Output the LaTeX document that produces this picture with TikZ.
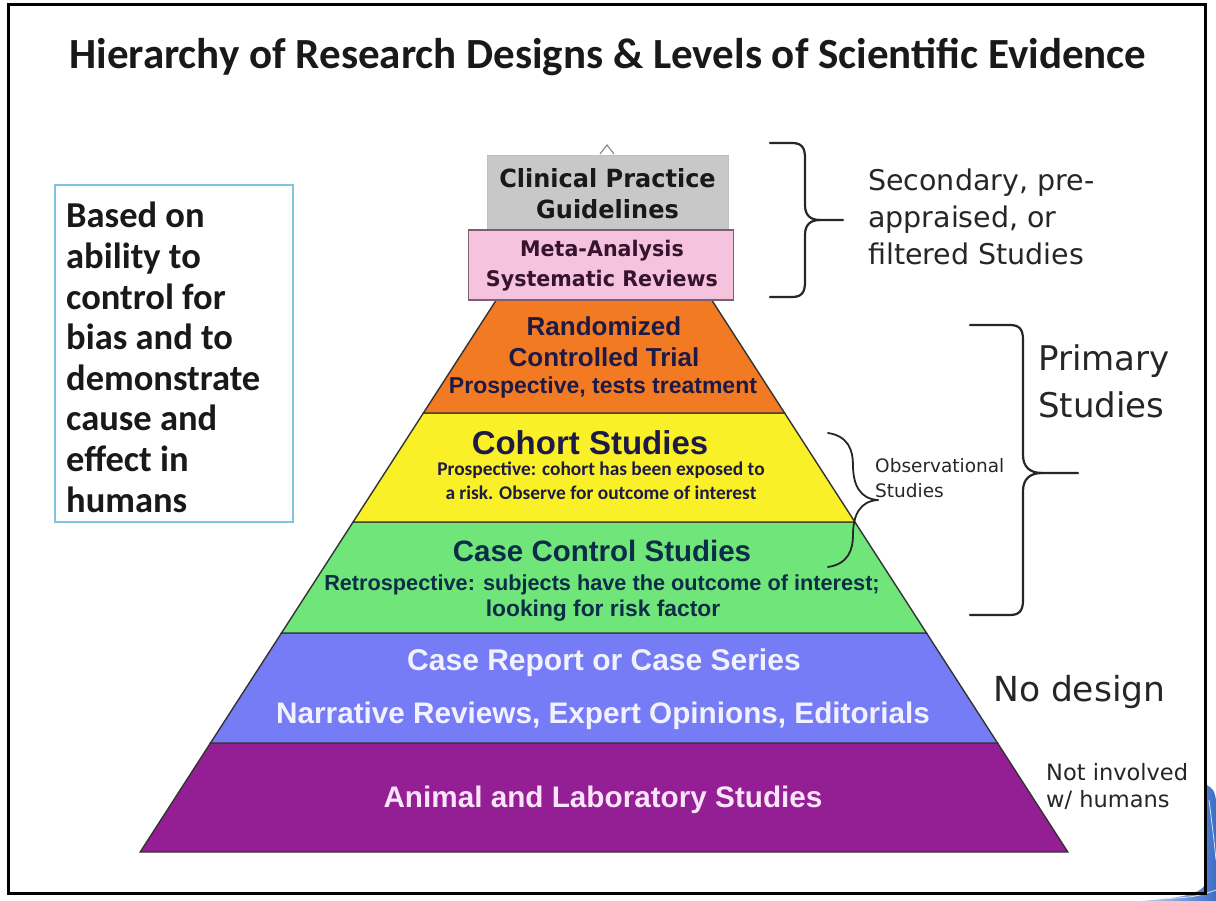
\documentclass[tikz,border=0pt]{standalone}
\usepackage{fontspec}
\setmainfont{Liberation Sans}
\newfontfamily\arial{Liberation Sans}
\newfontfamily\calfont{Carlito}
\newfontfamily\dvs{DejaVu Sans}
\newfontfamily\dvsc[FakeStretch=0.96]{DejaVu Sans}
\definecolor{navytxt}{RGB}{30,26,70}
\definecolor{tealtxt}{RGB}{12,45,72}
\definecolor{grayfill}{RGB}{200,200,200}
\definecolor{pinkfill}{RGB}{245,195,222}
\definecolor{pinkline}{RGB}{125,95,115}
\definecolor{pinktxt}{RGB}{55,20,45}
\definecolor{orangefill}{RGB}{242,122,34}
\definecolor{yellowfill}{RGB}{250,240,40}
\definecolor{greenfill}{RGB}{112,230,122}
\definecolor{bluefill}{RGB}{118,124,245}
\definecolor{purplefill}{RGB}{148,30,148}
\definecolor{lightbox}{RGB}{130,196,222}
\definecolor{bluetxt}{RGB}{242,242,255}
\definecolor{purpletxt}{RGB}{250,228,250}
\definecolor{swoosh}{RGB}{60,110,200}
\tikzset{
  layer/.style={draw=black!80, line width=1.4pt},
  head/.style={font=\arial\bfseries\fontsize{29.5}{33}\selectfont, text=navytxt, inner sep=0pt},
  sub/.style={font=\arial\bfseries\fontsize{23}{26}\selectfont, text=navytxt, inner sep=0pt},
  side/.style={font=\dvs, text=black!85, inner sep=0pt, anchor=west, align=left},
  brace/.style={draw=black!85, line width=2.2pt, line cap=round}
}
\begin{document}
\begin{tikzpicture}[x=1pt,y=-1pt]
\useasboundingbox (0,0) rectangle (1216,901);
\fill[white] (0,0) rectangle (1216,901);
% decorative swoosh bottom right
\shade[left color=swoosh!30, right color=swoosh] (1207,785) .. controls (1214,790) .. (1216,800) -- (1216,901) -- (1140,901) .. controls (1180,898) and (1204,895) .. (1207,880) -- cycle;
\draw[white!80!swoosh, line width=0.8pt] (1209,800) .. controls (1214,840) .. (1216,860);
\draw[white!80!swoosh, line width=0.8pt] (1160,899) .. controls (1195,897) .. (1216,890);
% frame
\draw[black, line width=3pt] (8,5) rectangle (1205,893);
% pyramid layers
\path[layer, fill=purplefill] (210.5,743) -- (997.5,743) -- (1067.8,852) -- (140.2,852) -- cycle;
\path[layer, fill=bluefill] (281.5,633) -- (926.5,633) -- (997.5,743) -- (210.5,743) -- cycle;
\path[layer, fill=greenfill] (353.1,522) -- (854.9,522) -- (926.5,633) -- (281.5,633) -- cycle;
\path[layer, fill=yellowfill] (423.4,413) -- (784.6,413) -- (854.9,522) -- (353.1,522) -- cycle;
\path[layer, fill=orangefill] (496.3,300) -- (711.7,300) -- (784.6,413) -- (423.4,413) -- cycle;
% apex tip
\draw[black!45, line width=1.2pt] (600,154) -- (607,145) -- (614,154);
% top boxes
\node[fill=grayfill, draw=black!25, minimum width=241pt, minimum height=75pt, inner sep=0pt] (cpg) at (607.5,192.5) {};
\node[font=\dvsc\bfseries\fontsize{25}{31}\selectfont, align=center, text=black!90, inner sep=0pt] (cpgt) at (607.5,194) {Clinical Practice\\Guidelines};
\node[fill=pinkfill, draw=pinkline, line width=1.2pt, minimum width=265pt, minimum height=70pt, inner sep=0pt] (meta) at (601,265) {};
\node[font=\dvsc\bfseries\fontsize{21.5}{30}\selectfont, align=center, text=pinktxt, inner sep=0pt] (metat) at (602,266) {Meta-Analysis\\Systematic Reviews};
% layer texts
\node[head, font=\arial\bfseries\fontsize{26}{31}\selectfont, align=center] (rct) at (604,342) {Randomized\\Controlled Trial};
\node[sub] (rcts) at (603,388) {Prospective, tests treatment};
\node[head, font=\arial\bfseries\fontsize{33}{36}\selectfont] (coh) at (590,443) {Cohort Studies};
\node[font=\calfont\bfseries\fontsize{19.4}{24}\selectfont, text=navytxt, align=center, inner sep=0pt] (cohs) at (601,481) {Prospective: cohort has been exposed to\\a risk. Observe for outcome of interest};
\node[head, text=tealtxt] (cc) at (602,551) {Case Control Studies};
\node[sub, font=\arial\bfseries\fontsize{21.7}{26}\selectfont, text=tealtxt] (ccs1) at (602,585) {Retrospective: subjects have the outcome of interest;};
\node[sub, font=\arial\bfseries\fontsize{22.8}{26}\selectfont, text=tealtxt] (ccs2) at (603,611) {looking for risk factor};
\node[head, font=\arial\bfseries\fontsize{30}{32}\selectfont, text=bluetxt] (cr) at (604,663) {Case Report or Case Series};
\node[head, font=\arial\bfseries\fontsize{29.7}{32}\selectfont, text=bluetxt] (nr) at (603,716) {Narrative Reviews, Expert Opinions, Editorials};
\node[head, font=\arial\bfseries\fontsize{29.7}{32}\selectfont, text=purpletxt] (an) at (603,800) {Animal and Laboratory Studies};
% title
\node[font=\calfont\bfseries\fontsize{43}{46}\selectfont, text=black!90, inner sep=0pt] (title) at (608,57) {Hierarchy of Research Designs \& Levels of Scientific Evidence};
% left box
\node[draw=lightbox, line width=1.6pt, minimum width=238pt, minimum height=337pt, inner sep=0pt] (lbox) at (174,353.5) {};
\node[font=\calfont\bfseries\fontsize{36.5}{40.6}\selectfont, align=left, anchor=north west, inner sep=0pt, text=black!90] (ltxt) at (66,202) {Based on\\ability to\\control for\\bias and to\\demonstrate\\cause and\\effect in\\humans};
% right labels
\node[side, font=\dvs\fontsize{28.5}{37}\selectfont] (sec) at (868,217) {Secondary, pre-\\appraised, or\\filtered Studies};
\node[side, font=\dvs\fontsize{34}{47}\selectfont] (prim) at (1038,381) {Primary\\Studies};
\node[side, font=\dvs\fontsize{18.5}{25}\selectfont] (obs) at (875,478) {Observational\\Studies};
\node[side, font=\dvs\fontsize{34.5}{40}\selectfont] (nod) at (993,692) {No design};
\node[side, font=\dvs\fontsize{22.5}{27}\selectfont] (noh) at (1046,786) {Not involved\\w/ humans};
% braces
\coordinate (b1tip) at (843,220);
\coordinate (b2tip) at (1078,473);
\coordinate (b3tip) at (878,500);
\draw[brace] (770,143) -- (792,143) .. controls (802,143) and (805,148) .. (805,158) -- (805,205) .. controls (805,215) and (810,220) .. (820,220) -- (b1tip);
\draw[brace] (820,220) .. controls (810,220) and (805,225) .. (805,235) -- (805,282) .. controls (805,292) and (802,297) .. (792,297) -- (770,297);
\draw[brace] (970,325) -- (1010,325) .. controls (1020,325) and (1023,330) .. (1023,340) -- (1023,455) .. controls (1023,467) and (1030,473) .. (1042,473) -- (b2tip);
\draw[brace] (1042,473) .. controls (1030,473) and (1023,479) .. (1023,491) -- (1023,600) .. controls (1023,610) and (1020,615) .. (1010,615) -- (970,615);
\draw[brace, line width=1.8pt] (828,433) .. controls (848,436) and (853,450) .. (853,465) .. controls (853,485) and (860,499) .. (b3tip);
\draw[brace, line width=1.8pt] (b3tip) .. controls (860,501) and (853,515) .. (853,535) .. controls (853,550) and (848,564) .. (828,567);
\end{tikzpicture}
\end{document}
